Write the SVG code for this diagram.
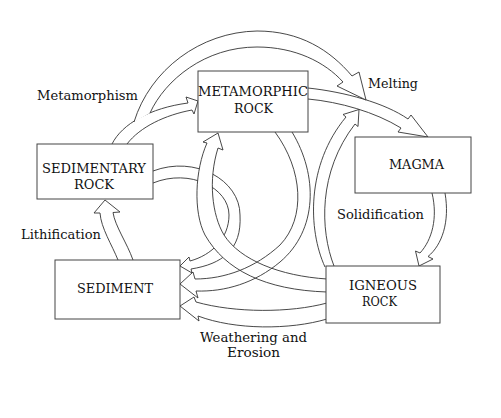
<svg xmlns="http://www.w3.org/2000/svg" width="501" height="418" viewBox="0 0 501 418">
<style>
.bg{fill:#ffffff}
.box{fill:#ffffff;stroke:#444;stroke-width:1}
.arr{fill:#ffffff;stroke:#333;stroke-width:0.9;stroke-linejoin:miter}
.open{fill:none;stroke:#333;stroke-width:0.9}
.t{font-family:"DejaVu Serif","Liberation Serif",serif;font-size:13px;fill:#111}
</style>
<rect class="bg" x="0" y="0" width="501" height="418"/>
<g id="connectors">
  <path id="met-to-magma" class="arr" d="M308,88 C345,92 385,103 408,119 L411,115 L428,137 L398,132 L401,128 C375,112 340,102 308,99"/>
  <path id="sedrock-to-met" class="arr" d="M112,144 C122,124 150,108 188,103 L186,97 L198,101 L194,114 L192,110 C165,115 140,127 127,144"/>
  <path id="sedrock-to-magma" class="arr" d="M134,122 C150,70 200,32 257,31 C300,31 330,50 352,76 L359,72 L366,100 L337,86 L343,82 C325,62 295,47 257,47 C205,47 165,80 150,113"/>
  <path id="ign-to-magma" class="arr" d="M325,267 C308,230 306,165 346,117 L343,114.5 L359,109.5 L358,126.5 L355,124 C318,172 320,230 334,266"/>
  <path id="magma-to-ign" class="arr" d="M445,193 C450,222 442,245 428,256.5 L433,259 L419,266 L415.5,251 L420,253 C432,240 438,218 432,193"/>
  <path id="sed-to-sedrock" class="arr" d="M118,260 C112,245 101,228 100,213 L94,213 L105,200 L120,212 L113,212.5 C115,226 127,243 133,260"/>
  <path id="sedrock-to-sed" class="arr" d="M153,171 C195,155 240,180 240,215 C242,250 222,264 191,269 L192,273 L180,266 L189,257 L190,261 C212,255 229,238 229,215 C229,188 190,168 153,183"/>
  <path id="ign-to-met" class="arr" d="M327,292 C265,290 225,270 205,235 C193,212 195,170 207,143 L203,142 L218,133 L223,150 L218,148 C208,180 212,215 224,235 C240,260 280,276 327,279"/>
  <path id="met-to-sed" class="open" d="M292,132 C318,175 318,230 280,262 C255,283 225,292 196,291 L198,298 L180,284 L193,272 L195,279 C225,279 255,268 280,245 C306,218 303,170 275,132"/>
  <path id="ign-to-sed" class="arr" d="M327,303 C290,313 235,313 196,302 L194,297 L180,306 L199,321 L198,316 C235,330 290,330 327,319"/>
</g>
<g id="node-sedimentary-rock">
  <rect class="box" x="37" y="144" width="116" height="55"/>
  <text class="t" x="42" y="173" textLength="104" lengthAdjust="spacingAndGlyphs">SEDIMENTARY</text>
  <text class="t" x="74" y="189" textLength="40" lengthAdjust="spacingAndGlyphs">ROCK</text>
</g>
<g id="node-metamorphic-rock">
  <rect class="box" x="198" y="71" width="110" height="61"/>
  <text class="t" x="198" y="96" textLength="110" lengthAdjust="spacingAndGlyphs">METAMORPHIC</text>
  <text class="t" x="234" y="113" textLength="39" lengthAdjust="spacingAndGlyphs">ROCK</text>
</g>
<g id="node-magma">
  <rect class="box" x="355" y="137" width="116" height="56"/>
  <text class="t" x="389" y="169" textLength="55" lengthAdjust="spacingAndGlyphs">MAGMA</text>
</g>
<g id="node-sediment">
  <rect class="box" x="55" y="260" width="125" height="59"/>
  <text class="t" x="77" y="293" textLength="76" lengthAdjust="spacingAndGlyphs">SEDIMENT</text>
</g>
<g id="node-igneous-rock">
  <rect class="box" x="326" y="266" width="114" height="57"/>
  <text class="t" x="349" y="290" textLength="68" lengthAdjust="spacingAndGlyphs">IGNEOUS</text>
  <text class="t" x="362" y="306" textLength="35" lengthAdjust="spacingAndGlyphs">ROCK</text>
</g>
<g id="labels">
  <text class="t" x="37" y="100" textLength="101" lengthAdjust="spacingAndGlyphs">Metamorphism</text>
  <text class="t" x="368" y="88" textLength="50" lengthAdjust="spacingAndGlyphs">Melting</text>
  <text class="t" x="337" y="219" textLength="87" lengthAdjust="spacingAndGlyphs">Solidification</text>
  <text class="t" x="21" y="239" textLength="80" lengthAdjust="spacingAndGlyphs">Lithification</text>
  <text class="t" x="200" y="342" textLength="107" lengthAdjust="spacingAndGlyphs">Weathering and</text>
  <text class="t" x="227" y="357" textLength="53" lengthAdjust="spacingAndGlyphs">Erosion</text>
</g>
</svg>
